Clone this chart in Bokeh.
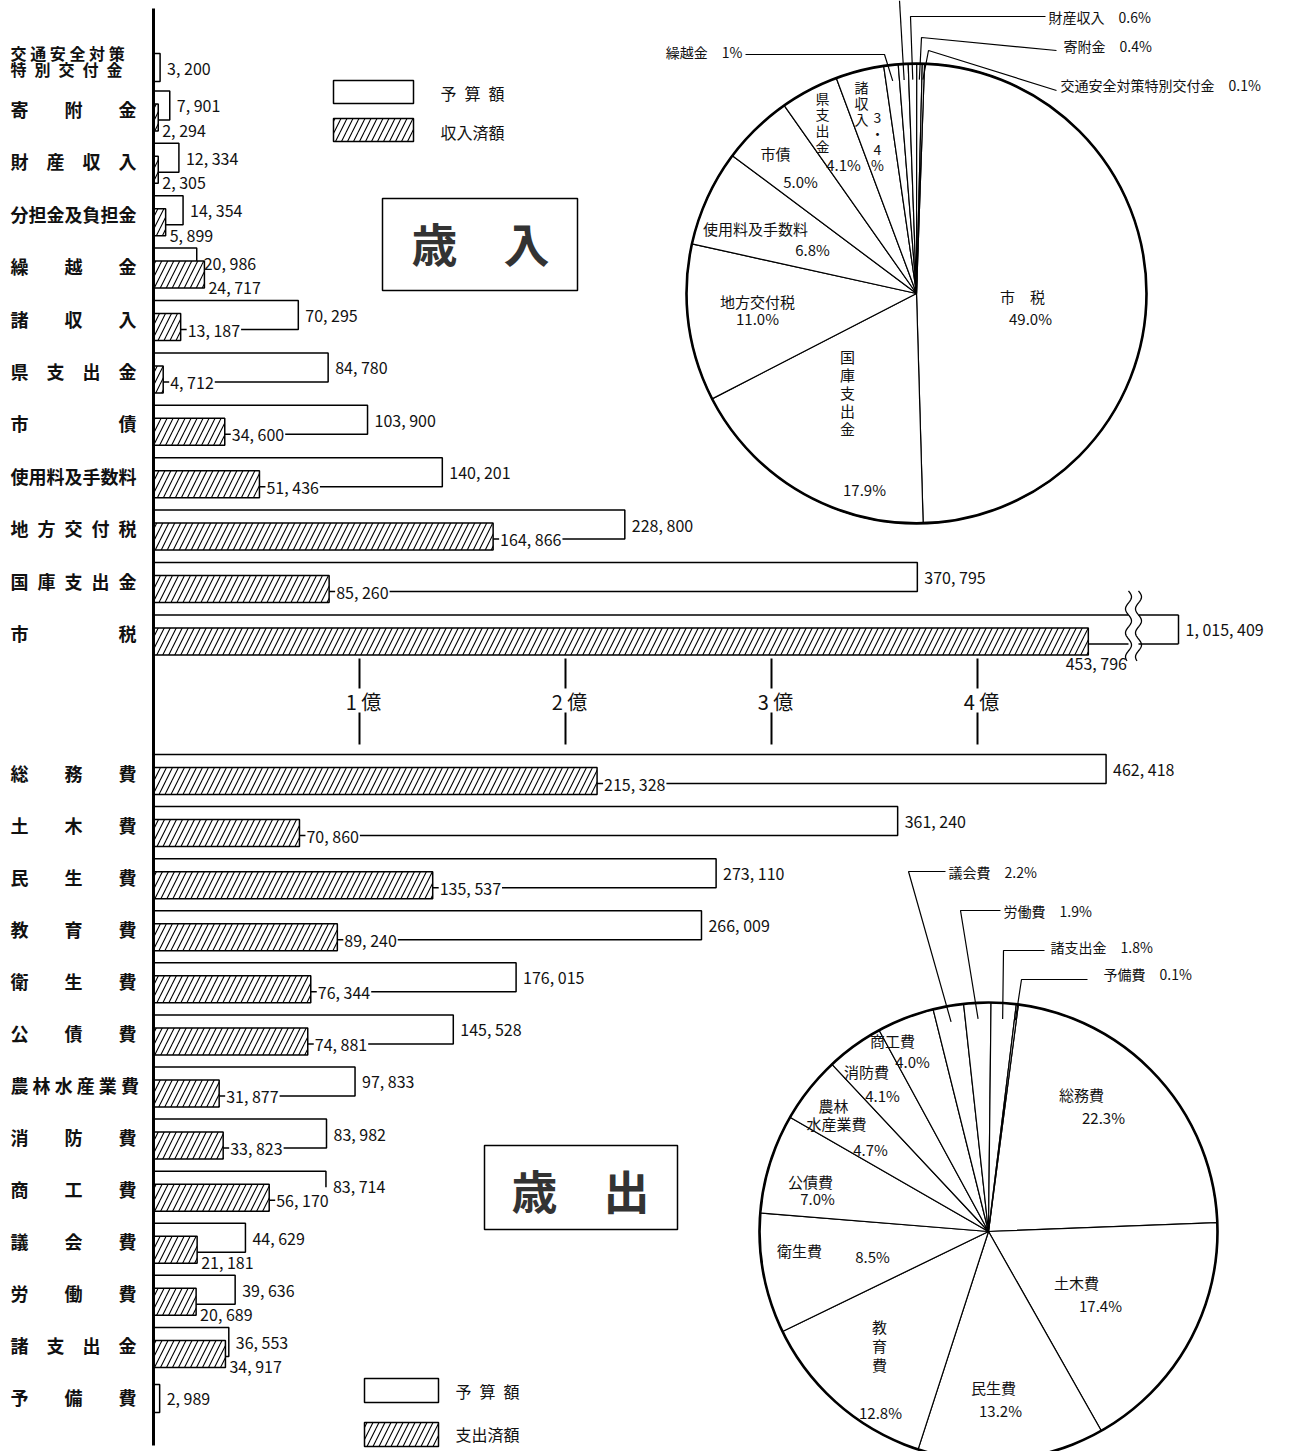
import numpy as np
from bokeh.plotting import figure
from bokeh.models import Range1d
from bokeh.core.properties import value
from bokeh.embed import file_html
from bokeh.resources import INLINE

# ---------------- data (単位: 千円) ----------------
rev_items = ["交通安全対策特別交付金", "寄附金", "財産収入", "分担金及負担金", "繰越金", "諸収入",
             "県支出金", "市債", "使用料及手数料", "地方交付税", "国庫支出金", "市税"]
rev_row_labels = [("交 通 安 全 対 策", "特\u2002別\u2002交\u2002付\u2002金"), "寄　　附　　金", "財　産　収　入",
                  "分担金及負担金", "繰　　越　　金", "諸　　収　　入", "県　支　出　金", "市　　　　　債",
                  "使用料及手数料", "地\u2002方\u2002交\u2002付\u2002税", "国\u2002庫\u2002支\u2002出\u2002金", "市　　　　　税"]
rev_budget = [3200, 7901, 12334, 14354, 20986, 70295, 84780, 103900, 140201, 228800, 370795, 1015409]
rev_actual = [0, 2294, 2305, 5899, 24717, 13187, 4712, 34600, 51436, 164866, 85260, 453796]
rev_pct = ["0.1%", "0.4%", "0.6%", "0.7%", "1%", "3.4%", "4.1%", "5.0%", "6.8%", "11.0%", "17.9%", "49.0%"]

exp_items = ["総務費", "土木費", "民生費", "教育費", "衛生費", "公債費", "農林水産業費", "消防費",
             "商工費", "議会費", "労働費", "諸支出金", "予備費"]
exp_row_labels = ["総　　務　　費", "土　　木　　費", "民　　生　　費", "教　　育　　費", "衛　　生　　費",
                  "公　　債　　費", "農 林 水 産 業 費", "消　　防　　費", "商　　工　　費", "議　　会　　費",
                  "労　　働　　費", "諸　支　出　金", "予　　備　　費"]
exp_budget = [462418, 361240, 273110, 266009, 176015, 145528, 97833, 83982, 83714, 44629, 39636, 36553, 2989]
exp_actual = [215328, 70860, 135537, 89240, 76344, 74881, 31877, 33823, 56170, 21181, 20689, 34917, 0]
exp_pct = ["22.3%", "17.4%", "13.2%", "12.8%", "8.5%", "7.0%", "4.7%", "4.1%", "4.0%", "2.2%", "1.9%", "1.8%", "0.1%"]

scale_values = [100000, 200000, 300000, 400000]
scale_labels = ["1 億", "2 億", "3 億", "4 億"]

legend_budget = "予\u2002算\u2002額"
legend_rev_actual = "収入済額"
legend_exp_actual = "支出済額"
title_rev = "歳　入"
title_exp = "歳　出"

# ---------------- layout ----------------
FONT = value("Noto Sans CJK JP")
W, H = 1295, 1451
X0 = 153.0            # page x of zero
S = 2.06 / 1000.0     # px per 千円


def dx(xp):
    return (xp - X0) / S


def dpx(n):
    return n / S


p = figure(width=W, height=H, x_range=Range1d(dx(0), dx(W)), y_range=Range1d(H, 0),
           output_backend="svg", toolbar_location=None, min_border=0,
           x_axis_location=None, y_axis_location=None)
p.grid.visible = False
p.outline_line_color = None
p.background_fill_color = "white"
p.border_fill_color = "white"

BREAK_LIMIT = 600000
BREAK_AT, BREAK_RESUME, BREAK_END = dx(1128), dx(1138), dx(1178)

rev_y = [66] + [108.4 + 52.4 * i for i in range(len(rev_items) - 1)]
exp_y = [772 + 52.08 * i for i in range(len(exp_items))]

LW = 1.5
HATCH = dict(fill_color="white", hatch_pattern="/", hatch_color="black", hatch_scale=12,
             hatch_weight=1.1, line_color="black", line_width=LW)


def draw_bars(rows, budget, actual):
    bl, br, by, bh = [], [], [], []
    al, ar, ay, ah = [], [], [], []
    lab_b = dict(x=[], y=[], t=[])
    lab_a_bg = dict(x=[], y=[], t=[])
    lab_a = dict(x=[], y=[], t=[])
    lab_a_c = dict(x=[], y=[], t=[])
    for r, b, a in zip(rows, budget, actual):
        if a > 0:
            bc, bhh = r - 3.5, 29
        else:
            bc, bhh = r + 1, 28
        if b > BREAK_LIMIT:
            # broken bar: two pieces without outline + explicit edges
            p.hbar(y=[bc, bc], left=[0, BREAK_RESUME], right=[BREAK_AT, BREAK_END], height=bhh,
                   fill_color="white", line_color=None)
            top, bot = bc - bhh / 2, bc + bhh / 2
            p.segment(x0=[0, 0, BREAK_RESUME, BREAK_RESUME, BREAK_END],
                      x1=[BREAK_AT, BREAK_AT, BREAK_END, BREAK_END, BREAK_END],
                      y0=[top, bot, top, bot, top], y1=[top, bot, top, bot, bot],
                      line_color="black", line_width=LW)
            for xb in (BREAK_AT, BREAK_RESUME):
                ys = np.linspace(r - 42, r + 28, 80)
                xs = xb + dpx(3.0 * np.sin((ys - ys[0]) / 12.0 * np.pi))
                p.line(xs, ys, line_color="black", line_width=1.3)
            lab_b["x"].append(BREAK_END)
        else:
            bl.append(0); br.append(b); by.append(bc); bh.append(bhh)
            lab_b["x"].append(b)
        lab_b["y"].append(bc)
        lab_b["t"].append(f"{b:,}".replace(",", ", "))
        if a > 0:
            al.append(0); ar.append(a); ay.append(r + 8.5); ah.append(27)
            t = f"{a:,}".replace(",", ", ")
            if b > BREAK_LIMIT:
                lab_a_c["x"].append(a); lab_a_c["y"].append(r + 30); lab_a_c["t"].append(t)
            elif b < 50000:
                lab_a["x"].append(a); lab_a["y"].append(r + 21); lab_a["t"].append(t)
            else:
                lab_a_bg["x"].append(a); lab_a_bg["y"].append(r + 11); lab_a_bg["t"].append(t)
    p.hbar(y=by, left=bl, right=br, height=bh, fill_color="white", line_color="black", line_width=LW)
    p.hbar(y=ay, left=al, right=ar, height=ah, **HATCH)
    common = dict(text_font=FONT, text_font_size="16px", text_baseline="middle", text_color="#111")
    p.text(x=lab_b["x"], y=lab_b["y"], text=lab_b["t"], x_offset=7, text_align="left", **common)
    p.text(x=lab_a["x"], y=lab_a["y"], text=lab_a["t"], x_offset=4, text_align="left", **common)
    p.text(x=lab_a_c["x"], y=lab_a_c["y"], text=lab_a_c["t"], x_offset=8, text_align="center", **common)
    p.text(x=lab_a_bg["x"], y=lab_a_bg["y"], text=lab_a_bg["t"], x_offset=6, text_align="left",
           background_fill_color="white", padding=1, **common)


draw_bars(rev_y, rev_budget, rev_actual)
draw_bars(exp_y, exp_budget, exp_actual)

# row labels
lab_common = dict(text_font=FONT, text_font_style="bold", text_baseline="middle",
                  text_align="left", text_color="#111")
lx, ly, lt = [], [], []
l2x, l2y, l2t = [], [], []
for r, lab in zip(rev_y, rev_row_labels):
    if isinstance(lab, tuple):
        l2x += [dx(10), dx(10)]; l2y += [r - 14, r + 2]; l2t += list(lab)
    else:
        lx.append(dx(10)); ly.append(r); lt.append(lab)
for r, lab in zip(exp_y, exp_row_labels):
    lx.append(dx(10)); ly.append(r); lt.append(lab)
p.text(x=lx, y=ly, text=lt, text_font_size="18px", **lab_common)
p.text(x=l2x, y=l2y, text=l2t, text_font_size="16px", **lab_common)

# vertical axis line
p.segment(x0=[0], x1=[0], y0=[8], y1=[1445], line_color="black", line_width=3)

# scale ticks (億)
p.segment(x0=scale_values, x1=scale_values, y0=[658] * 4, y1=[688] * 4, line_color="black", line_width=2)
p.segment(x0=scale_values, x1=scale_values, y0=[712] * 4, y1=[744] * 4, line_color="black", line_width=2)
p.text(x=scale_values, y=[701] * 4, text=scale_labels, x_offset=4, text_align="center",
       text_baseline="middle", text_font=FONT, text_font_size="20px", text_color="#111")

# legends
p.quad(left=[dx(333)], right=[dx(413)], top=[80], bottom=[103], fill_color="white", line_color="black", line_width=LW)
p.quad(left=[dx(333)], right=[dx(413)], top=[118], bottom=[141], **HATCH)
p.quad(left=[dx(364)], right=[dx(438)], top=[1378], bottom=[1402], fill_color="white", line_color="black", line_width=LW)
p.quad(left=[dx(364)], right=[dx(438)], top=[1422], bottom=[1446], **HATCH)
leg_common = dict(text_font=FONT, text_font_size="16px", text_baseline="middle", text_align="left", text_color="#111")
p.text(x=[dx(440), dx(440), dx(455), dx(455)], y=[92, 131, 1390, 1433],
       text=[legend_budget, legend_rev_actual, legend_budget, legend_exp_actual], **leg_common)

# title boxes
p.quad(left=[dx(382), dx(484)], right=[dx(577), dx(677)], top=[198, 1145], bottom=[290, 1229],
       fill_color=None, line_color="black", line_width=LW)
p.text(x=[dx(480), dx(580)], y=[241, 1188], text=[title_rev, title_exp], text_align="center",
       text_baseline="middle", text_font=FONT, text_font_size="46px", text_font_style="bold", text_color="#333")


# ---------------- pies ----------------
def draw_pie(cx, cy, r, values, start_deg):
    tot = float(sum(values))
    cum = np.concatenate([[0.0], np.cumsum(values)]) / tot * 2 * np.pi
    b0 = np.radians(start_deg)
    bs = b0 + cum[:-1]
    be = b0 + cum[1:]
    p.wedge(x=[dx(cx)] * len(values), y=[cy] * len(values), radius=r, radius_units="screen",
            start_angle=list(np.pi / 2 - be), end_angle=list(np.pi / 2 - bs), direction="anticlock",
            fill_color="white", line_color="black", line_width=1.2)
    p.circle(x=[dx(cx)], y=[cy], radius=r, radius_units="screen", fill_color=None,
             line_color="black", line_width=2.6)
    return (bs + be) / 2


def leader(cx, cy, r, bearing, pts):
    xi = cx + 0.93 * r * np.sin(bearing)
    yi = cy - 0.93 * r * np.cos(bearing)
    xs = [xi] + [q[0] for q in pts]
    ys = [yi] + [q[1] for q in pts]
    p.line([dx(v) for v in xs], ys, line_color="black", line_width=1.2)


pie_font = dict(text_font=FONT, text_font_size="15px", text_baseline="middle", text_color="#111")
out_font = dict(text_font=FONT, text_font_size="14px", text_baseline="middle", text_color="#111")

# revenue pie (clockwise from top: 市税 first)
RCX, RCY, RR = 916, 293, 230
rev_order = list(range(len(rev_items)))[::-1]
mids = draw_pie(RCX, RCY, RR, [rev_budget[i] for i in rev_order], 2.0)
rmid = {rev_order[k]: mids[k] for k in range(len(rev_order))}
leader(RCX, RCY, RR, rmid[0], [(928, 50), (1056, 90)])
leader(RCX, RCY, RR, rmid[1], [(921, 37), (1056, 50)])
leader(RCX, RCY, RR, rmid[2], [(910, 16), (1045, 16)])
leader(RCX, RCY, RR, rmid[3], [(899, 0)])
leader(RCX, RCY, RR, rmid[4], [(884, 54), (745, 54)])
p.text(x=[dx(1060), dx(1063), dx(1048)], y=[84, 45, 16],
       text=[rev_items[0] + "　" + rev_pct[0], rev_items[1] + "　" + rev_pct[1], rev_items[2] + "　" + rev_pct[2]],
       text_align="left", **out_font)
p.text(x=[dx(742)], y=[51], text=[rev_items[4] + "　" + rev_pct[4]], text_align="right", **out_font)
rin_x = [1022, 1030, 864, 757, 757, 755, 812, 775, 800, 843]
rin_y = [296, 318, 489, 301, 318, 228, 249, 153, 181, 164]
rin_t = ["市　税", rev_pct[11], rev_pct[10], rev_items[9], rev_pct[9], rev_items[8], rev_pct[8],
         rev_items[7], rev_pct[7], rev_pct[6]]
p.text(x=[dx(v) for v in rin_x], y=rin_y, text=rin_t, text_align="center", **pie_font)
p.text(x=[dx(847)], y=[392], text=["\n".join(rev_items[10])], text_align="center",
       text_line_height=0.86, **pie_font)
vx = [822, 861, 877]
vy = [121, 102, 140]
vt = ["\n".join(rev_items[6]), "\n".join(rev_items[5]), "3\n・\n4\n%"]
p.text(x=[dx(v) for v in vx], y=vy, text=vt, text_align="center", text_line_height=0.8,
       text_font=FONT, text_font_size="14px", text_baseline="middle", text_color="#111")

# expenditure pie (clockwise from near top: 総務費 first)
ECX, ECY, ER = 988, 1231, 229
emids = draw_pie(ECX, ECY, ER, exp_budget, 7.5)
leader(ECX, ECY, ER, emids[9], [(908, 871), (945, 871)])
leader(ECX, ECY, ER, emids[10], [(960, 910), (1000, 910)])
leader(ECX, ECY, ER, emids[11], [(1003, 950), (1044, 950)])
leader(ECX, ECY, ER, emids[12], [(1021, 979), (1087, 979)])
p.text(x=[dx(948), dx(1003), dx(1050), dx(1103)], y=[871, 910, 946, 973],
       text=[exp_items[k] + "　" + exp_pct[k] for k in (9, 10, 11, 12)], text_align="left", **out_font)
ein_x = [1081, 1103, 1076, 1100, 993, 1000, 880, 799, 872, 810, 817, 833, 836, 870, 866, 882, 892, 912]
ein_y = [1094, 1117, 1282, 1305, 1387, 1410, 1412, 1250, 1256, 1181, 1198, 1105, 1123, 1149, 1071, 1095, 1040, 1061]
ein_t = [exp_items[0], exp_pct[0], exp_items[1], exp_pct[1], exp_items[2], exp_pct[2], exp_pct[3],
         exp_items[4], exp_pct[4], exp_items[5], exp_pct[5], "農林", "水産業費", exp_pct[6],
         exp_items[7], exp_pct[7], exp_items[8], exp_pct[8]]
p.text(x=[dx(v) for v in ein_x], y=ein_y, text=ein_t, text_align="center", **pie_font)
p.text(x=[dx(879)], y=[1345], text=["\n".join(exp_items[3])], text_align="center", text_line_height=0.92, **pie_font)

open("out.html", "w").write(file_html(p, INLINE))
